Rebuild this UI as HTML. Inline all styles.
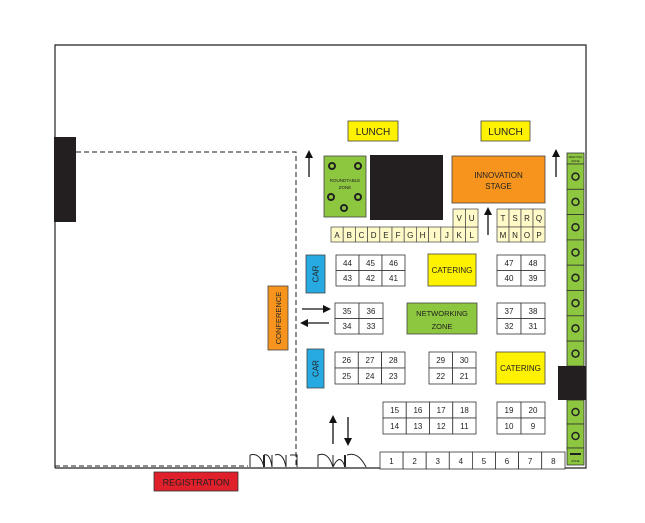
<!DOCTYPE html>
<html><head><meta charset="utf-8"><style>
html,body{margin:0;padding:0;background:#fff}
svg{display:block}
text{font-family:"Liberation Sans",sans-serif;fill:#222}
</style></head><body>
<svg width="645" height="523" viewBox="0 0 645 523" xmlns="http://www.w3.org/2000/svg">
<defs>
<marker id="ah" markerWidth="8" markerHeight="8" refX="6" refY="4" orient="auto" markerUnits="userSpaceOnUse"><path d="M0,0 L8,4 L0,8 z" fill="#111"/></marker>
</defs>
<rect width="645" height="523" fill="#fff"/>
<!-- outer walls -->
<path d="M55,468 L55,45 L586,45 L586,468 L55,468" fill="none" stroke="#222" stroke-width="1.2"/>
<rect x="54" y="137" width="22" height="85" fill="#231f20"/>
<!-- dashed conference area -->
<path d="M76,152 L296,152 L296,466 M55,466 L248,466" fill="none" stroke="#222" stroke-width="1" stroke-dasharray="5,3"/>
<!-- registration -->
<rect x="154" y="472" width="84" height="19" fill="#e0202a" stroke="#333" stroke-width="0.8"/>
<text x="196" y="485.5" font-size="9" text-anchor="middle">REGISTRATION</text>
<!-- doors -->
<g fill="none" stroke="#222" stroke-width="1">
<path d="M250,467 L250,455 M250,455 Q260,452 264,467 M264,455 L264,467 M264,455 Q270,453 272,467 M272,455 L272,467 M275,455 Q283,452 286,467 M286,455 L286,467 M290,455 L297,455 L297,467"/>
<path d="M318,467 L318,455 Q328,451 333,467 M333,455 L333,467 Q340,452 345,467 M345,455 L345,467 M347,455 Q358,451 366,467"/>
</g>
<rect x="263" y="455" width="2" height="12" fill="#222"/>
<rect x="344" y="455" width="2" height="12" fill="#222"/>
<!-- arrows -->
<g stroke="#111" stroke-width="1.3" marker-end="url(#ah)">
<line x1="309" y1="177" x2="309" y2="152"/>
<line x1="556" y1="177" x2="556" y2="151"/>
<line x1="488" y1="235" x2="488" y2="209"/>
<line x1="302" y1="309" x2="329" y2="309"/>
<line x1="329" y1="323" x2="302" y2="323"/>
<line x1="333" y1="444" x2="333" y2="417"/>
<line x1="348" y1="417" x2="348" y2="444"/>
</g>
<!-- lunch -->
<rect x="348" y="121" width="50" height="20" fill="#fff200" stroke="#444" stroke-width="0.8"/>
<text x="373" y="135" font-size="10" text-anchor="middle">LUNCH</text>
<rect x="481" y="121" width="49" height="20" fill="#fff200" stroke="#444" stroke-width="0.8"/>
<text x="505.5" y="135" font-size="10" text-anchor="middle">LUNCH</text>
<!-- roundtable -->
<rect x="324" y="156" width="42" height="61" fill="#8dc63f" stroke="#444" stroke-width="0.8"/>
<g fill="none" stroke="#222" stroke-width="2">
<circle cx="332" cy="166" r="3"/><circle cx="358" cy="166" r="3"/>
<circle cx="331" cy="197" r="3"/><circle cx="358" cy="197" r="3"/><circle cx="344" cy="208" r="3"/>
</g>
<text x="345" y="182" font-size="4.5" text-anchor="middle">ROUNDTABLE</text>
<text x="345" y="189" font-size="4.5" text-anchor="middle">ZONE</text>
<rect x="370" y="155" width="73" height="65" fill="#231f20"/>
<!-- innovation -->
<rect x="452" y="156" width="93" height="47" fill="#f7941d" stroke="#444" stroke-width="0.8"/>
<text x="498.5" y="178" font-size="8" text-anchor="middle">INNOVATION</text>
<text x="498.5" y="189" font-size="8" text-anchor="middle">STAGE</text>
<!-- letter booths -->
<g fill="#fffac8" stroke="#444" stroke-width="0.7">
<rect x="331" y="227" width="12.2" height="15"/><rect x="343.2" y="227" width="12.2" height="15"/><rect x="355.4" y="227" width="12.2" height="15"/><rect x="367.6" y="227" width="12.2" height="15"/><rect x="379.8" y="227" width="12.2" height="15"/><rect x="392" y="227" width="12.2" height="15"/><rect x="404.2" y="227" width="12.2" height="15"/><rect x="416.4" y="227" width="12.2" height="15"/><rect x="428.6" y="227" width="12.2" height="15"/><rect x="440.8" y="227" width="12.2" height="15"/>
<rect x="453" y="227" width="12.5" height="15"/><rect x="465.5" y="227" width="12.5" height="15"/>
<rect x="453" y="209" width="12.5" height="18"/><rect x="465.5" y="209" width="12.5" height="18"/>
<rect x="497" y="209" width="12" height="18"/><rect x="509" y="209" width="12" height="18"/><rect x="521" y="209" width="12" height="18"/><rect x="533" y="209" width="12" height="18"/>
<rect x="497" y="227" width="12" height="15"/><rect x="509" y="227" width="12" height="15"/><rect x="521" y="227" width="12" height="15"/><rect x="533" y="227" width="12" height="15"/>
</g>
<g font-size="8" text-anchor="middle">
<text x="337.1" y="238">A</text><text x="349.3" y="238">B</text><text x="361.5" y="238">C</text><text x="373.7" y="238">D</text><text x="385.9" y="238">E</text><text x="398.1" y="238">F</text><text x="410.3" y="238">G</text><text x="422.5" y="238">H</text><text x="434.7" y="238">I</text><text x="446.9" y="238">J</text><text x="459.2" y="238">K</text><text x="471.7" y="238">L</text>
<text x="459.2" y="221">V</text><text x="471.7" y="221">U</text>
<text x="503" y="221">T</text><text x="515" y="221">S</text><text x="527" y="221">R</text><text x="539" y="221">Q</text>
<text x="503" y="238">M</text><text x="515" y="238">N</text><text x="527" y="238">O</text><text x="539" y="238">P</text>
</g>
<!-- numbered booths -->
<g fill="#fff" stroke="#333" stroke-width="0.8">
<rect x="336" y="255" width="23" height="15.5"/><rect x="359" y="255" width="23" height="15.5"/><rect x="382" y="255" width="23" height="15.5"/>
<rect x="336" y="270.5" width="23" height="15.5"/><rect x="359" y="270.5" width="23" height="15.5"/><rect x="382" y="270.5" width="23" height="15.5"/>
<rect x="497" y="255" width="24" height="15.5"/><rect x="521" y="255" width="24" height="15.5"/>
<rect x="497" y="270.5" width="24" height="15.5"/><rect x="521" y="270.5" width="24" height="15.5"/>
<rect x="335" y="303" width="24" height="15.5"/><rect x="359" y="303" width="24" height="15.5"/>
<rect x="335" y="318.5" width="24" height="15.5"/><rect x="359" y="318.5" width="24" height="15.5"/>
<rect x="497" y="303" width="24" height="15.5"/><rect x="521" y="303" width="24" height="15.5"/>
<rect x="497" y="318.5" width="24" height="15.5"/><rect x="521" y="318.5" width="24" height="15.5"/>
<rect x="335" y="352" width="23.3" height="16"/><rect x="358.3" y="352" width="23.3" height="16"/><rect x="381.6" y="352" width="23.4" height="16"/>
<rect x="335" y="368" width="23.3" height="16"/><rect x="358.3" y="368" width="23.3" height="16"/><rect x="381.6" y="368" width="23.4" height="16"/>
<rect x="429" y="352" width="23.5" height="16"/><rect x="452.5" y="352" width="23.5" height="16"/>
<rect x="429" y="368" width="23.5" height="16"/><rect x="452.5" y="368" width="23.5" height="16"/>
<rect x="383" y="402" width="23.25" height="16"/><rect x="406.25" y="402" width="23.25" height="16"/><rect x="429.5" y="402" width="23.25" height="16"/><rect x="452.75" y="402" width="23.25" height="16"/>
<rect x="383" y="418" width="23.25" height="16"/><rect x="406.25" y="418" width="23.25" height="16"/><rect x="429.5" y="418" width="23.25" height="16"/><rect x="452.75" y="418" width="23.25" height="16"/>
<rect x="497" y="402" width="24" height="16"/><rect x="521" y="402" width="24" height="16"/>
<rect x="497" y="418" width="24" height="16"/><rect x="521" y="418" width="24" height="16"/>
<rect x="380" y="452" width="23.1" height="17"/><rect x="403.1" y="452" width="23.1" height="17"/><rect x="426.2" y="452" width="23.1" height="17"/><rect x="449.3" y="452" width="23.1" height="17"/><rect x="472.4" y="452" width="23.1" height="17"/><rect x="495.5" y="452" width="23.1" height="17"/><rect x="518.6" y="452" width="23.1" height="17"/><rect x="541.7" y="452" width="23.3" height="17"/>
</g>
<g font-size="8" text-anchor="middle">
<text x="347.5" y="266">44</text><text x="370.5" y="266">45</text><text x="393.5" y="266">46</text>
<text x="347.5" y="281">43</text><text x="370.5" y="281">42</text><text x="393.5" y="281">41</text>
<text x="509" y="266">47</text><text x="533" y="266">48</text><text x="509" y="281">40</text><text x="533" y="281">39</text>
<text x="347" y="314">35</text><text x="371" y="314">36</text><text x="347" y="329">34</text><text x="371" y="329">33</text>
<text x="509" y="314">37</text><text x="533" y="314">38</text><text x="509" y="329">32</text><text x="533" y="329">31</text>
<text x="346.6" y="363">26</text><text x="370" y="363">27</text><text x="393.3" y="363">28</text>
<text x="346.6" y="379">25</text><text x="370" y="379">24</text><text x="393.3" y="379">23</text>
<text x="440.7" y="363">29</text><text x="464.2" y="363">30</text><text x="440.7" y="379">22</text><text x="464.2" y="379">21</text>
<text x="394.6" y="413">15</text><text x="417.9" y="413">16</text><text x="441.1" y="413">17</text><text x="464.4" y="413">18</text>
<text x="394.6" y="429">14</text><text x="417.9" y="429">13</text><text x="441.1" y="429">12</text><text x="464.4" y="429">11</text>
<text x="509" y="413">19</text><text x="533" y="413">20</text><text x="509" y="429">10</text><text x="533" y="429">9</text>
<text x="391.5" y="464">1</text><text x="414.6" y="464">2</text><text x="437.7" y="464">3</text><text x="460.8" y="464">4</text><text x="483.9" y="464">5</text><text x="507" y="464">6</text><text x="530.1" y="464">7</text><text x="553.3" y="464">8</text>
</g>
<!-- catering / networking -->
<rect x="428" y="254" width="48" height="32" fill="#fff200" stroke="#444" stroke-width="0.8"/>
<text x="452" y="273" font-size="8" text-anchor="middle">CATERING</text>
<rect x="496" y="352" width="49" height="32" fill="#fff200" stroke="#444" stroke-width="0.8"/>
<text x="520.5" y="371" font-size="8" text-anchor="middle">CATERING</text>
<rect x="407" y="303" width="70" height="31" fill="#8dc63f" stroke="#444" stroke-width="0.8"/>
<text x="442" y="316" font-size="7.5" text-anchor="middle">NETWORKING</text>
<text x="442" y="329" font-size="7.5" text-anchor="middle">ZONE</text>
<!-- cars / conference -->
<rect x="306" y="255" width="19" height="38" fill="#27aae1" stroke="#444" stroke-width="0.8"/>
<text transform="translate(318.5,274) rotate(-90)" font-size="8" text-anchor="middle">CAR</text>
<rect x="307" y="349" width="17" height="39" fill="#27aae1" stroke="#444" stroke-width="0.8"/>
<text transform="translate(318.5,368.5) rotate(-90)" font-size="8" text-anchor="middle">CAR</text>
<rect x="268" y="286" width="20" height="64" fill="#f7941d" stroke="#444" stroke-width="0.8"/>
<text transform="translate(281,318) rotate(-90)" font-size="7.5" text-anchor="middle">CONFERENCE</text>
<!-- right green column -->
<g fill="#8dc63f" stroke="#333" stroke-width="0.8">
<rect x="567" y="153" width="17" height="11"/>
<rect x="567" y="164" width="17" height="25.3"/><rect x="567" y="189.3" width="17" height="25.3"/><rect x="567" y="214.6" width="17" height="25.3"/><rect x="567" y="239.9" width="17" height="25.3"/><rect x="567" y="265.2" width="17" height="25.3"/><rect x="567" y="290.5" width="17" height="25.3"/><rect x="567" y="315.8" width="17" height="25.3"/><rect x="567" y="341.1" width="17" height="25"/>
<rect x="567" y="400" width="17" height="24"/><rect x="567" y="424" width="17" height="24"/>
<rect x="567" y="448" width="17" height="17"/>
</g>
<g fill="none" stroke="#222" stroke-width="1.5">
<circle cx="575.5" cy="176.6" r="3.5"/><circle cx="575.5" cy="201.9" r="3.5"/><circle cx="575.5" cy="227.2" r="3.5"/><circle cx="575.5" cy="252.5" r="3.5"/><circle cx="575.5" cy="277.8" r="3.5"/><circle cx="575.5" cy="303.1" r="3.5"/><circle cx="575.5" cy="328.4" r="3.5"/><circle cx="575.5" cy="353.6" r="3.5"/><circle cx="575.5" cy="412" r="3.5"/><circle cx="575.5" cy="436" r="3.5"/>
</g>
<text x="575.5" y="158" font-size="3" text-anchor="middle">MEETING</text>
<text x="575.5" y="162" font-size="3" text-anchor="middle">ZONE</text>
<rect x="570" y="453" width="11" height="2" fill="#222"/>
<text x="575.5" y="462" font-size="3" text-anchor="middle">ZONE</text>
<rect x="558" y="366" width="28" height="34" fill="#231f20"/>
</svg>
</body></html>
